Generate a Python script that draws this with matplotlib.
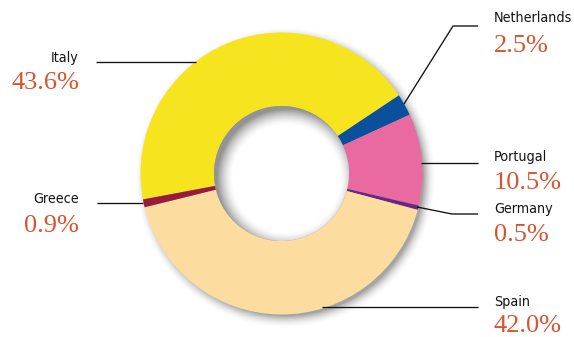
import numpy as np
import matplotlib
matplotlib.use("Agg")
import matplotlib.pyplot as plt
from matplotlib.patches import Circle
from matplotlib import font_manager

# Share of production by country (percent), clockwise from Italy
countries = ["Italy", "Netherlands", "Portugal", "Germany", "Spain", "Greece"]
shares = [43.6, 2.5, 10.5, 0.5, 42.0, 0.9]
colors = ["#f6e51e", "#0b509c", "#e96aa1", "#6b2585", "#fddca0", "#9a1a3b"]

W, H = 574, 337
fig = plt.figure(figsize=(W / 100, H / 100), dpi=100)
ax = fig.add_axes([0, 0, 1, 1])

cx, cy = 281.5, H - 173.5
R_out, R_in = 141.0, 67.5

# soft drop shadow under the ring
gx, gy = np.meshgrid(np.arange(W) + 0.5, np.arange(H) + 0.5)
d_sh = np.hypot(gx - (cx + 4), gy - (cy - 4))
a_sh = np.clip(1 - (d_sh - (R_out - 3)) / 13.0, 0, 1) ** 2 * 0.55
shadow = np.zeros((H, W, 4))
shadow[..., :3] = 0.35
shadow[..., 3] = a_sh
ax.imshow(shadow, extent=(0, W, 0, H), origin="lower", zorder=0, interpolation="bilinear")

wedges, _ = ax.pie(shares, colors=colors, startangle=190.6, counterclock=False,
                   center=(cx, cy), radius=R_out, frame=True,
                   wedgeprops=dict(width=R_out - R_in, linewidth=0))
for w in wedges:
    w.set_zorder(1)
ax.set_xlim(0, W)
ax.set_ylim(0, H)
ax.set_aspect("equal")
ax.axis("off")

# white hole with an inner shadow along its upper-left rim
d_in = np.hypot(gx - (cx + 5), gy - (cy - 5))
dark = np.clip(1 - (R_in + 2 - d_in) / 16.0, 0, 1) ** 1.6 * 0.42
hole = np.ones((H, W, 4))
hole[..., :3] = (1 - dark)[..., None]
im = ax.imshow(hole, extent=(0, W, 0, H), origin="lower", zorder=2, interpolation="bilinear")
clip = Circle((cx, cy), R_in, transform=ax.transData, facecolor="none", edgecolor="none")
ax.add_patch(clip)
im.set_clip_path(clip)

# leader lines (pixel positions, y measured from the top)
leaders = {
    "Italy": [(96, 62), (196, 62)],
    "Netherlands": [(404, 104), (453, 26), (478, 26)],
    "Portugal": [(421, 163), (478, 163)],
    "Germany": [(417, 207), (452, 214), (478, 214)],
    "Spain": [(322, 307), (478, 307)],
    "Greece": [(97, 203), (143, 203)],
}
# label anchors: (x, name y, value y, alignment)
label_pos = {
    "Italy": (79, 58, 83, "right"),
    "Netherlands": (494, 18, 46, "left"),
    "Portugal": (494, 157, 183, "left"),
    "Germany": (494, 209, 235, "left"),
    "Spain": (494, 302, 326, "left"),
    "Greece": (79, 199, 226, "right"),
}

# narrow sans for the country names
installed = {(f.name, f.stretch) for f in font_manager.fontManager.ttflist}
names_only = {n for n, _ in installed}
if "Liberation Sans Narrow" in names_only:
    name_kw = dict(family="Liberation Sans Narrow", fontsize=12.5)
elif any(n == "DejaVu Sans" and s == "condensed" for n, s in installed):
    name_kw = dict(family="DejaVu Sans", fontstretch="condensed", fontsize=10.3)
else:
    name_kw = dict(family="DejaVu Sans", fontsize=9.5)

for name, share in zip(countries, shares):
    pts = leaders[name]
    xs = [p[0] for p in pts]
    ys = [H - p[1] for p in pts]
    ax.plot(xs, ys, color="#111111", lw=0.95, zorder=3, solid_capstyle="butt")
    x, ny, vy, ha = label_pos[name]
    ax.text(x, H - ny, name, ha=ha, va="center", color="#141414", zorder=4, **name_kw)
    ax.text(x, H - vy, f"{share:.1f}%", ha=ha, va="center", fontsize=19,
            family=["Liberation Serif", "DejaVu Serif"], color="#d9532f", zorder=4)

fig.savefig("out.png", dpi=100, facecolor="white")
